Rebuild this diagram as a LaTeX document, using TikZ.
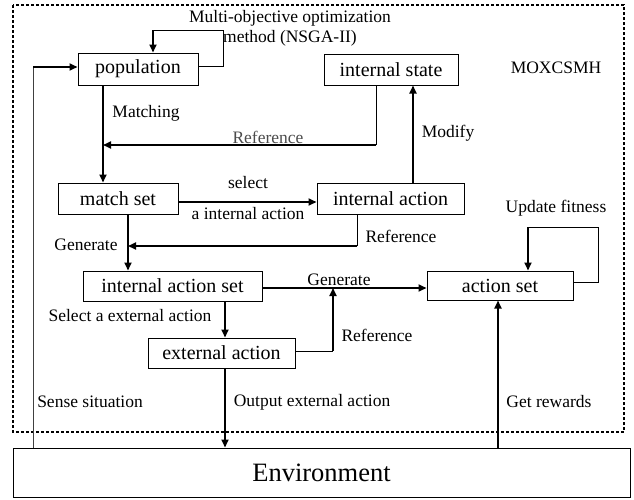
\documentclass[tikz,border=0pt]{standalone}
\usepackage{fontspec}
\setmainfont{Liberation Serif}
\usetikzlibrary{arrows.meta}
\tikzset{
  box/.style={draw=black, line width=1pt, inner sep=0pt, font=\fontsize{20}{22}\selectfont},
  lbl/.style={inner sep=0pt, font=\fontsize{17.5}{20}\selectfont},
  thinline/.style={line width=1pt},
  arr/.style={line width=1.8pt, -{Triangle[length=8pt,width=7pt]}},
  thk/.style={line width=1.8pt}
}
\begin{document}
\begin{tikzpicture}[x=1pt,y=-1pt]
\useasboundingbox (0,0) rectangle (634,499);
\draw[line width=1.2pt, dash pattern=on 3pt off 2pt] (13,5) rectangle (624,432);

\node[box, minimum width=120pt, minimum height=32pt] (pop) at (138,69) {population};
\node[box, minimum width=134pt, minimum height=31pt] (ist) at (391,69.5) {internal state};
\node[box, minimum width=120pt, minimum height=31pt] (mset) at (118,198.5) {match set};
\node[box, minimum width=147pt, minimum height=31pt] (iact) at (390.5,198.5) {internal action};
\node[box, minimum width=179pt, minimum height=30pt] (iaset) at (172.5,286) {internal action set};
\node[box, minimum width=146pt, minimum height=29pt] (aset) at (500,285.5) {action set};
\node[box, minimum width=147pt, minimum height=30pt] (eact) at (221.5,353) {external action};
\node[box, minimum width=617pt, minimum height=49pt, font=\fontsize{26.5}{28}\selectfont] (env) at (321.5,472.5) {Environment};

\node[lbl, align=center] (mo) at (290,28) {Multi-objective optimization\\method (NSGA-II)};
\node[lbl] (mox) at (556,68) {MOXCSMH};

% population self loop
\coordinate (pl1) at (223,30);
\coordinate (pl2) at (153,30);
\draw[thinline] (pop.east |- 0,66) -| (pl1) -- (pl2);
\draw[arr] (pl2) -- (pop.north -| pl2);

% matching
\draw[arr] (pop.south -| 103,0) -- (mset.north -| 103,0);
\node[lbl] (lmatch) at (146,113) {Matching};

% reference from internal state
\coordinate (r1) at (376,145);
\draw[thinline] (ist.south -| r1) -- (r1);
\draw[arr] (r1) -- (103,145);
\node[lbl, text=black!70] (lref1) at (268,137) {Reference};

% modify
\draw[arr] (iact.north -| 413,0) -- (ist.south -| 413,0);
\node[lbl] (lmod) at (448,133) {Modify};

% select
\draw[arr] (mset.east |- 0,202) -- (iact.west |- 0,202);
\node[lbl] (lsel1) at (248,183) {select};
\node[lbl] (lsel2) at (248,214) {a internal action};

% reference from internal action
\coordinate (r2) at (357,246);
\draw[thinline] (iact.south -| r2) -- (r2);
\draw[arr] (r2) -- (128,246);
\node[lbl] (lref2) at (401,236) {Reference};

% generate (match set -> internal action set)
\draw[arr] (mset.south -| 128,0) -- (iaset.north -| 128,0);
\node[lbl] (lgen1) at (86,245) {Generate};

% generate (internal action set -> action set)
\draw[arr] (iaset.east |- 0,288) -- (aset.west |- 0,288);
\node[lbl] (lgen2) at (339,280) {Generate};

% update fitness loop
\coordinate (u1) at (598,227);
\coordinate (u2) at (528,227);
\draw[thinline] (aset.east |- 0,282) -| (u1) -- (u2);
\draw[arr] (u2) -- (aset.north -| u2);
\node[lbl] (lupd) at (556,208) {Update fitness};

% select external
\draw[arr] (iaset.south -| 225,0) -- (eact.north -| 225,0);
\node[lbl] (lselx) at (130,316) {Select a external action};

% reference from external action
\coordinate (r3) at (333,351);
\draw[thinline] (eact.east |- r3) -- (r3);
\draw[arr] (r3) -- (333,288);
\node[lbl] (lref3) at (377,335) {Reference};

% output
\draw[arr] (eact.south -| 225,0) -- (env.north -| 225,0);
\node[lbl] (lout) at (312,402) {Output external action};

% sense
\coordinate (s1) at (33,67);
\draw[thinline, black!75] (env.north -| s1) -- (s1);
\draw[arr] (s1) -- (pop.west |- s1);
\node[lbl] (lsense) at (90,402) {Sense situation};

% get rewards
\draw[arr] (env.north -| 498,0) -- (aset.south -| 498,0);
\node[lbl] (lrew) at (549,402) {Get rewards};
\end{tikzpicture}
\end{document}
